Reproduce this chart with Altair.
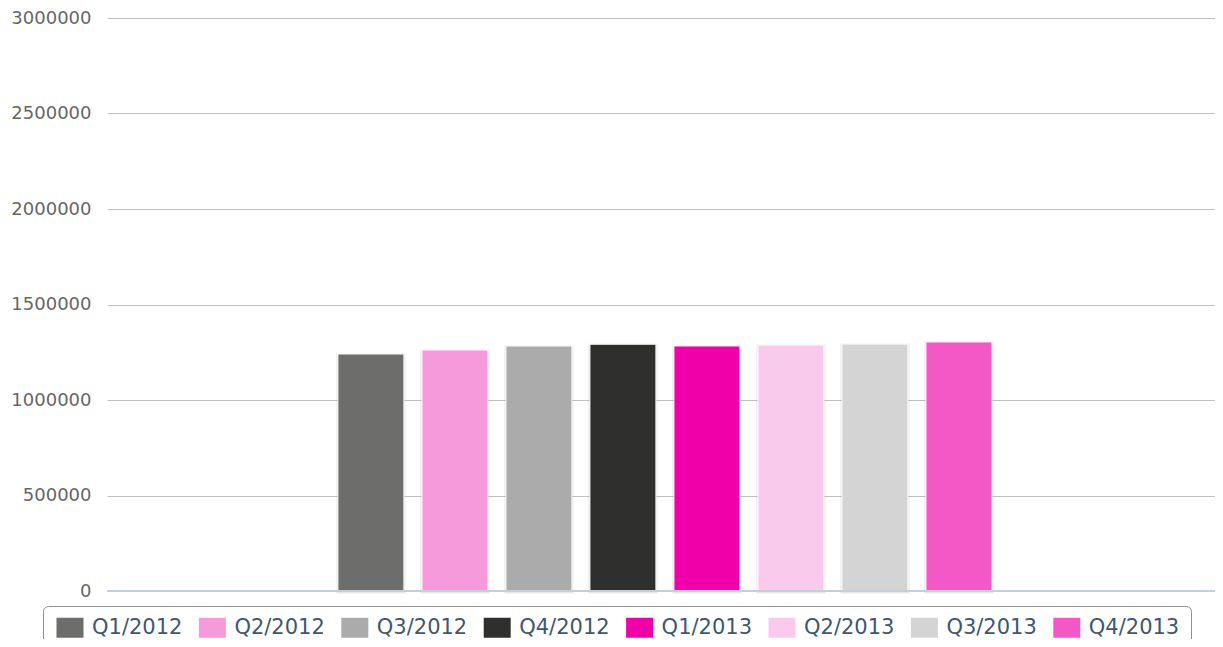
import altair as alt
import pandas as pd

series = ["Q1/2012", "Q2/2012", "Q3/2012", "Q4/2012", "Q1/2013", "Q2/2013", "Q3/2013", "Q4/2013"]
values = [1241000, 1262000, 1283000, 1292000, 1283000, 1288000, 1293000, 1304000]
colors = ["#6D6D6B", "#F79ADC", "#ABABAB", "#2F2F2E", "#EF00A9", "#FACAEC", "#D4D4D4", "#F458C7"]
y_ticks = [0, 500000, 1000000, 1500000, 2000000, 2500000, 3000000]

df = pd.DataFrame({"series": series, "value": values, "grp": ["all"] * len(series)})

W, H = 1108, 573
FONT = "DejaVu Sans"

yscale = alt.Scale(domain=[0, 3000000], nice=False)
x = alt.X("grp:N", scale=alt.Scale(paddingInner=0, paddingOuter=0.3244, align=0.509), axis=None)
xo = alt.XOffset("series:N", sort=series,
                 scale=alt.Scale(domain=series, paddingInner=0.2143, paddingOuter=0.107))
y = alt.Y("value:Q", scale=yscale,
          axis=alt.Axis(values=y_ticks, title=None, grid=True, gridColor="#C0C0C0",
                        gridWidth=1, domain=False, ticks=False, labelFontSize=18,
                        labelColor="#666666", labelFont=FONT, labelPadding=16,
                        format="d"))

base = alt.Chart(df)

shadow = base.mark_bar(fill="transparent", stroke="#000000", strokeOpacity=0.09,
                       strokeWidth=3, xOffset=1.5, yOffset=1).encode(x=x, xOffset=xo, y=y)

bars = base.mark_bar(stroke="#FFFFFF", strokeWidth=1).encode(
    x=x, xOffset=xo, y=y,
    color=alt.Color("series:N", sort=series,
                    scale=alt.Scale(domain=series, range=colors),
                    legend=alt.Legend(
                        title=None, orient="none", legendX=-64, legendY=588,
                        direction="horizontal", columns=8, columnPadding=13.4,
                        symbolType="M-0.8,-1L1.9,-1L1.9,1L-0.8,1Z", symbolSize=400,
                        symbolStrokeWidth=0, symbolOpacity=1,
                        labelFontSize=21, labelFont=FONT, labelColor="#3E576F",
                        labelOffset=17, padding=11, strokeColor="#909090",
                        cornerRadius=5, fillColor="#FFFFFF")),
)

baseline = alt.Chart(pd.DataFrame({"value": [0]})).mark_rule(color="#C0D0E0", strokeWidth=2).encode(
    y=y, x=alt.value(0), x2=alt.value(W),
)

chart = alt.layer(shadow, bars, baseline).properties(
    width=W, height=H,
    background="#FFFFFF",
    autosize=alt.AutoSizeParams(type="none"),
    padding={"left": 99, "top": 10, "right": 0, "bottom": 48},
).configure_view(strokeWidth=0, stroke="transparent")

chart.save("out.html", embed_options={"renderer": "svg", "actions": False})
